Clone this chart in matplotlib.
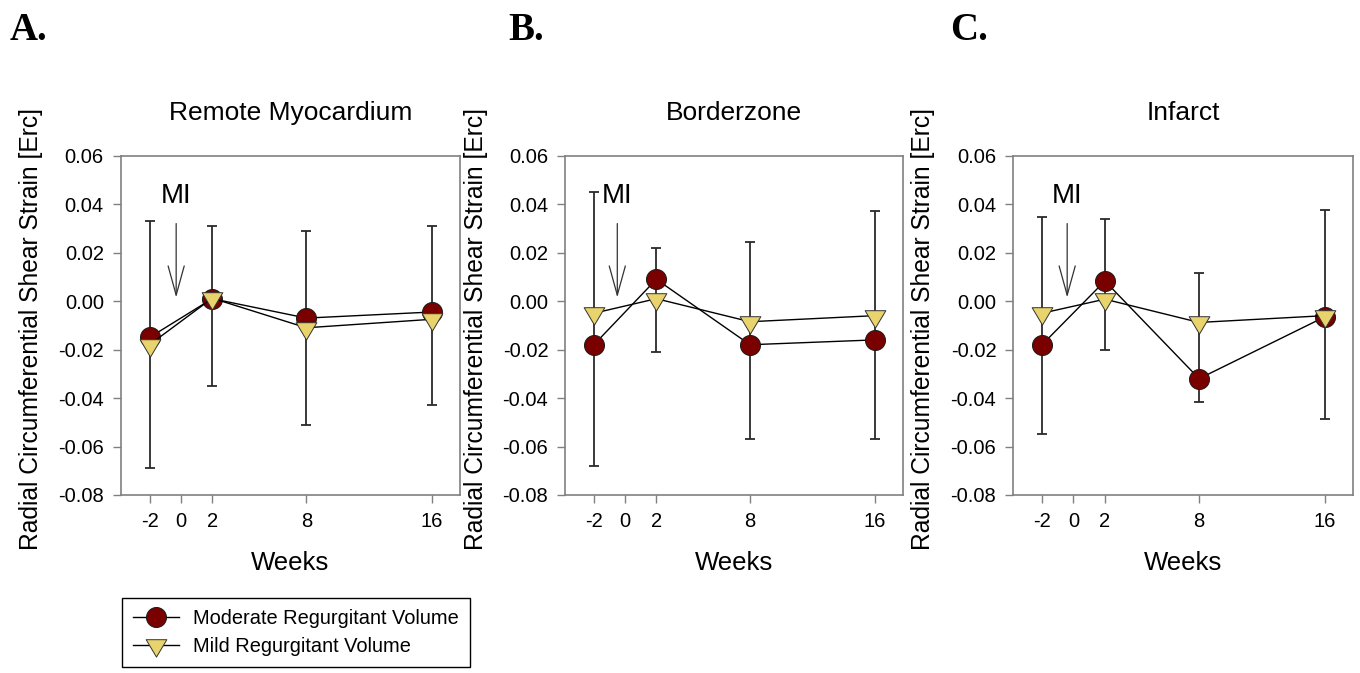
import matplotlib
matplotlib.use('Agg')
import matplotlib.pyplot as plt
from matplotlib.path import Path
import numpy as np

plt.rcParams['font.family'] = ['Liberation Sans', 'DejaVu Sans']

# ---------------- data ----------------
weeks = [-2, 2, 8, 16]
xtick_vals = [-2, 0, 2, 8, 16]
xtick_labels = ['-2', '0', '2', '8', '16']
ytick_vals = [-0.08, -0.06, -0.04, -0.02, 0.0, 0.02, 0.04, 0.06]
ytick_labels = ['-0.08', '-0.06', '-0.04', '-0.02', '0.00', '0.02', '0.04', '0.06']

panel_titles = ['Remote Myocardium', 'Borderzone', 'Infarct']
panel_letters = ['A.', 'B.', 'C.']
series_labels = ['Moderate Regurgitant Volume', 'Mild Regurgitant Volume']

remote_moderate = [-0.015, 0.001, -0.007, -0.0045]
remote_mild = [-0.018, 0.0012, -0.011, -0.0075]
remote_err_hi = [0.033, 0.031, 0.0288, 0.031]
remote_err_lo = [-0.069, -0.035, -0.051, -0.043]

border_moderate = [-0.018, 0.009, -0.018, -0.016]
border_mild = [-0.005, 0.001, -0.0085, -0.006]
border_err_hi = [0.045, 0.022, 0.0244, 0.0372]
border_err_lo = [-0.068, -0.021, -0.057, -0.057]

infarct_moderate = [-0.018, 0.0083, -0.032, -0.0065]
infarct_mild = [-0.005, 0.0008, -0.0088, -0.006]
infarct_err_hi = [0.0347, 0.034, 0.0116, 0.0377]
infarct_err_lo = [-0.055, -0.020, -0.0415, -0.0488]

moderate_all = [remote_moderate, border_moderate, infarct_moderate]
mild_all = [remote_mild, border_mild, infarct_mild]
err_hi_all = [remote_err_hi, border_err_hi, infarct_err_hi]
err_lo_all = [remote_err_lo, border_err_lo, infarct_err_lo]

mi_x = [-0.3, -0.5, -0.4]

# ---------------- style ----------------
W, H = 1360, 673
fig = plt.figure(figsize=(W / 100, H / 100), dpi=100)

lefts = [120.5, 565, 1013]
rights = [460, 903, 1353]
ax_top, ax_bot = 155.7, 495
letter_x = [10, 508, 950]

circ_fc = '#7a0000'
tri_fc = '#e8d36c'
spine_c = '#808080'

# down-pointing triangle centred on its centroid
h = 2 * 17.4 / 20.7
tri_marker = Path([(-1, h / 3), (1, h / 3), (0, -2 * h / 3), (-1, h / 3)],
                  [Path.MOVETO, Path.LINETO, Path.LINETO, Path.CLOSEPOLY])

handles = None
for i in range(3):
    l, r = lefts[i], rights[i]
    ax = fig.add_axes([l / W, (H - ax_bot) / H, (r - l) / W, (ax_bot - ax_top) / H])
    hi = np.array(err_hi_all[i]); lo = np.array(err_lo_all[i])
    ax.errorbar(weeks, (hi + lo) / 2, yerr=(hi - lo) / 2, fmt='none',
                ecolor='#2a2a2a', elinewidth=1.3, capsize=3.6, capthick=1.3, zorder=2)
    h1, = ax.plot(weeks, moderate_all[i], '-', color='black', lw=1.0,
                  marker='o', ms=14.4, mfc=circ_fc, mec='#1a1a1a', mew=0.7, zorder=3)
    h2, = ax.plot(weeks, mild_all[i], '-', color='black', lw=1.0,
                  marker=tri_marker, ms=16.7, mfc=tri_fc, mec='#333333', mew=0.7, zorder=4)
    if handles is None:
        handles = [h1, h2]

    ax.set_xlim(-3.85, 17.8)
    ax.set_ylim(-0.08, 0.06)
    ax.set_xticks(xtick_vals)
    ax.set_xticklabels(xtick_labels)
    ax.set_yticks(ytick_vals)
    ax.set_yticklabels(ytick_labels)
    for s in ax.spines.values():
        s.set_color(spine_c)
        s.set_linewidth(1.2)
    ax.tick_params(direction='out', length=6, width=1, color=spine_c,
                   labelsize=14.5, labelcolor='black', pad=6)

    ax.set_title(panel_titles[i], fontsize=19, pad=26)
    ax.set_xlabel('Weeks', fontsize=18.5)
    ax.xaxis.set_label_coords(0.5, -0.165)
    ax.set_ylabel('Radial Circumferential Shear Strain [Erc]', fontsize=17.7)
    ax.yaxis.set_label_coords(-0.228, 0.488)

    # MI annotation
    ax.text(mi_x[i], 0.0435, 'MI', fontsize=20, ha='center', va='center')
    ax.annotate('', xy=(mi_x[i], 0.0015), xytext=(mi_x[i], 0.032),
                arrowprops=dict(arrowstyle='->,head_length=21,head_width=5.8',
                                mutation_scale=1, color='#333333', lw=0.9,
                                shrinkA=0, shrinkB=0))

    fig.text(letter_x[i] / W, 1 - 12 / H, panel_letters[i], fontfamily='Liberation Serif',
             fontweight='bold', fontsize=28, ha='left', va='top')

leg = fig.legend(handles, series_labels, loc='upper left',
                 bbox_to_anchor=(122 / W, 1 - 598 / H), bbox_transform=fig.transFigure,
                 frameon=True, fancybox=False, edgecolor='black', framealpha=1,
                 fontsize=14.4, handlelength=2.3, handletextpad=0.7, borderpad=0.55,
                 labelspacing=0.45, borderaxespad=0)
leg.get_frame().set_linewidth(1.0)

fig.savefig('out.png', dpi=100)
